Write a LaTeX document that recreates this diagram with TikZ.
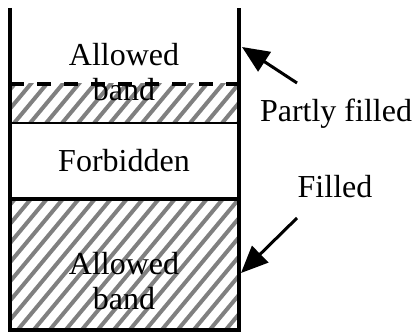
\documentclass[tikz,border=0pt]{standalone}
\usepackage{fontspec}
\setmainfont{Liberation Serif}
\usetikzlibrary{arrows.meta}
\begin{document}
\begin{tikzpicture}[x=1pt,y=1pt,
  wall/.style={line width=3.2pt},
  hatchline/.style={line width=4pt, color=gray},
  label/.style={inner sep=0pt, font=\fontsize{32}{35}\selectfont, align=center},
  pointer/.style={line width=3pt, -{Triangle[length=27pt,width=23pt]}}]
\useasboundingbox (0,0) rectangle (412,332);
% hatching
\begin{scope}
  \clip (10,2) rectangle (239,133);
  \foreach \i in {-224,-208,...,240} \draw[hatchline] (\i,0) -- ++(260,312);
\end{scope}
\begin{scope}
  \clip (10,209) rectangle (239,248);
  \foreach \i in {-224,-208,...,240} \draw[hatchline] (\i,0) -- ++(260,312);
\end{scope}
% walls
\draw[wall] (10,324) -- (10,2) -- (239,2) -- (239,324);
\draw[line width=2.5pt] (10,209) -- (239,209);
\draw[wall] (10,133) -- (239,133);
\draw[wall, dash pattern=on 14pt off 13pt] (10,248) -- (239,248);
% texts
\node[label] (top) at (124,259.5) {Allowed\\band};
\node[label] (forb) at (124,171) {Forbidden};
\node[label] (bot) at (124,50.5) {Allowed\\band};
\node[label, anchor=base] (pf) at (336,210) {Partly filled};
\node[label, anchor=base] (fl) at (335,134) {Filled};
% arrows
\coordinate (a1s) at (297,249);
\coordinate (a1e) at (242,285);
\coordinate (a2s) at (297,114);
\coordinate (a2e) at (241,59);
\draw[pointer] (a1s) -- (a1e);
\draw[pointer] (a2s) -- (a2e);
\end{tikzpicture}
\end{document}
